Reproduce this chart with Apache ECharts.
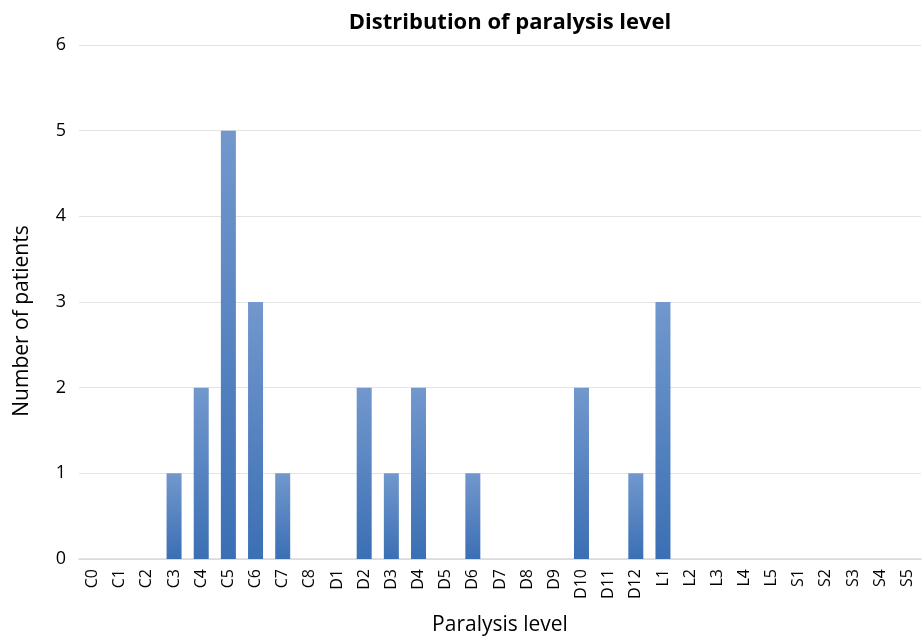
<!DOCTYPE html>
<html><head><meta charset="utf-8">
<script src="https://cdn.jsdelivr.net/npm/echarts@6/dist/echarts.min.js"></script>
<style>html,body{margin:0;padding:0;background:#fff}#c{width:924px;height:641px}</style>
</head><body><div id="c"></div>
<script>
const categories = ['C0','C1','C2','C3','C4','C5','C6','C7','C8','D1','D2','D3','D4','D5','D6','D7','D8','D9','D10','D11','D12','L1','L2','L3','L4','L5','S1','S2','S3','S4','S5'];
const patients = [0,0,0,1,2,5,3,1,0,0,2,1,2,0,1,0,0,0,2,0,1,3,0,0,0,0,0,0,0,0,0];
const yTicks = {min:0, max:6, interval:1};
const font = '"Open Sans", "Liberation Sans", sans-serif';
const chart = echarts.init(document.getElementById('c'));
chart.setOption({
  animation:false,
  title:{text:'Distribution of paralysis level', left:505, textAlign:'center', top:7,
    textStyle:{fontFamily:font, fontSize:22, fontWeight:'bold', color:'#000'}},
  grid:{left:79, right:3, top:45, bottom:79},
  xAxis:{type:'category', data:categories,
    name:'Paralysis level', nameLocation:'middle', nameGap:56,
    nameTextStyle:{fontFamily:font, fontSize:21, color:'#000'},
    axisLine:{lineStyle:{color:'#d9d9d9', width:1.5}},
    axisTick:{show:false},
    axisLabel:{rotate:90, interval:0, fontFamily:font, fontSize:16, color:'#000', margin:10}},
  yAxis:{type:'value', min:yTicks.min, max:yTicks.max, interval:yTicks.interval,
    name:'Number of patients', nameLocation:'middle', nameGap:46, nameRotate:90,
    nameTextStyle:{fontFamily:font, fontSize:21, color:'#000', padding:[0,0,0,-38]},
    axisLine:{show:false}, axisTick:{show:false},
    axisLabel:{fontFamily:font, fontSize:18, color:'#000', margin:13},
    splitLine:{lineStyle:{color:'#e3e3e3', width:1}}},
  series:[{type:'bar', data:patients, barWidth:15,
    itemStyle:{
      color:new echarts.graphic.LinearGradient(0,0,0,1,[{offset:0,color:'#7298cd'},{offset:1,color:'#3b6fb4'}])}}]
});
</script></body></html>
